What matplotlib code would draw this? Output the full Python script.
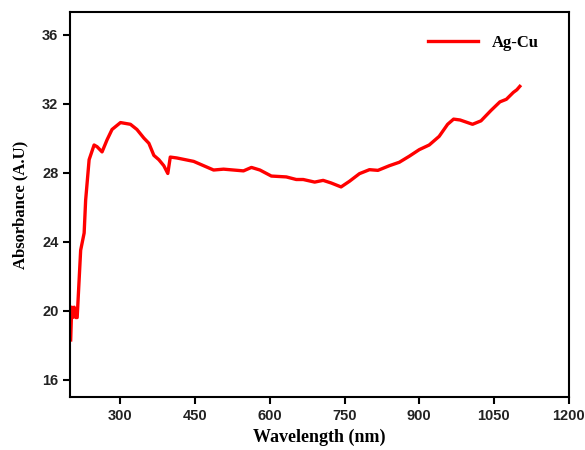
import matplotlib.pyplot as plt

# UV-Vis spectrum of Ag-Cu
wavelength = [200, 202, 204, 207, 210, 213, 220, 227, 230, 237, 247, 253, 263, 273, 283,
              300, 320, 333, 347, 357, 367, 377, 387, 395, 400, 413, 447, 467, 487, 507,
              547, 563, 580, 603, 633, 653, 667, 690, 707, 723, 743, 760, 780, 800, 817,
              840, 860, 880, 900, 920, 940, 957, 969, 982, 1007, 1024, 1044, 1062, 1075,
              1089, 1096, 1102]
absorbance = [18.3, 20.2, 19.6, 20.2, 19.6, 19.6, 23.5, 24.5, 26.4, 28.75, 29.6, 29.5, 29.2, 29.9, 30.5,
              30.9, 30.8, 30.5, 30.0, 29.7, 29.0, 28.75, 28.4, 27.95, 28.9, 28.85, 28.65, 28.4, 28.15, 28.2,
              28.1, 28.3, 28.15, 27.8, 27.75, 27.6, 27.6, 27.45, 27.55, 27.4, 27.17, 27.5, 27.94, 28.17, 28.13,
              28.4, 28.6, 28.95, 29.33, 29.6, 30.1, 30.8, 31.1, 31.05, 30.8, 31.0, 31.6, 32.1, 32.25,
              32.65, 32.8, 33.0]

xticks = [300, 450, 600, 750, 900, 1050, 1200]
yticks = [16, 20, 24, 28, 32, 36]

fig = plt.figure(figsize=(5.85, 4.5), dpi=100)
ax = fig.add_axes([0.12, 0.118, 0.852, 0.855])

ax.plot(wavelength, absorbance, color='#ff0000', linewidth=2.4, label='Ag-Cu')

ax.set_xlim(199, 1200)
ax.set_ylim(15, 37.3)
ax.set_xticks(xticks)
ax.set_yticks(yticks)

for s in ax.spines.values():
    s.set_linewidth(1.5)
ax.tick_params(direction='out', length=5, width=1.5, top=False, right=False)
for lab in ax.get_xticklabels() + ax.get_yticklabels():
    lab.set_fontfamily('Liberation Sans')
    lab.set_fontweight('bold')
    lab.set_fontsize(10.5)
    lab.set_color('#222222')

ax.set_xlabel('Wavelength (nm)', fontfamily='Liberation Serif', fontweight='bold', fontsize=13)
ax.set_ylabel('Absorbance (A.U)', fontfamily='Liberation Serif', fontweight='bold', fontsize=12,
              labelpad=10)

leg = ax.legend(loc='upper right', frameon=False, handlelength=3,
                prop={'family': 'Liberation Serif', 'weight': 'bold', 'size': 12},
                bbox_to_anchor=(0.97, 0.98))

fig.savefig('out.png', dpi=100)
